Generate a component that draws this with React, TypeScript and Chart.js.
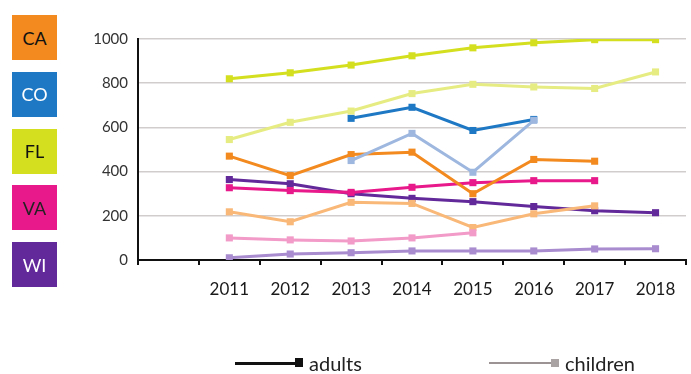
import React, { useEffect, useRef } from "react";
import { Chart, registerables } from "chart.js";
Chart.register(...registerables);

const categories = ["", "2011", "2012", "2013", "2014", "2015", "2016", "2017", "2018"];
const yTicks = [0, 200, 400, 600, 800, 1000];

const caAdults = [null, 470, 382, 477, 488, 300, 455, 447, null];
const caChildren = [null, 218, 173, 261, 256, 147, 209, 245, null];
const coAdults = [null, null, null, 641, 691, 586, 636, null, null];
const coChildren = [null, null, null, 450, 573, 397, 632, null, null];
const flAdults = [null, 820, 847, 882, 924, 960, 983, 997, 997];
const flChildren = [null, 545, 623, 674, 753, 795, 783, 776, 851];
const vaAdults = [null, 327, 314, 306, 329, 350, 359, 359, null];
const vaChildren = [null, 100, 91, 86, 100, 123, null, null, null];
const wiAdults = [null, 364, 345, 300, 279, 264, 242, 223, 214];
const wiChildren = [null, 10, 27, 33, 41, 41, 41, 50, 51];

const states = [
  { name: "CA", color: "#f28a1f", light: "#f9b877", text: "#111" },
  { name: "CO", color: "#1e78c4", light: "#9db7df", text: "#fff" },
  { name: "FL", color: "#d3df1f", light: "#e6ec82", text: "#111" },
  { name: "VA", color: "#e8198a", light: "#f29ac8", text: "#222" },
  { name: "WI", color: "#62299a", light: "#a88ccf", text: "#fff" },
];

const FONT = "Lato, 'Noto Sans', sans-serif";

export default function App() {
  const ref = useRef<HTMLCanvasElement | null>(null);
  useEffect(() => {
    document.body.style.margin = "0";
    const mk = (data: (number | null)[], color: string) => ({
      data,
      borderColor: color,
      backgroundColor: color,
      borderWidth: 3,
      pointStyle: "rect" as const,
      pointRadius: 5,
      pointBorderWidth: 0,
      spanGaps: false,
    });
    const datasets = [
      mk(wiChildren, states[4].light),
      mk(vaChildren, states[3].light),
      mk(caChildren, states[0].light),
      mk(coChildren, states[1].light),
      mk(flChildren, states[2].light),
      mk(flAdults, states[2].color),
      mk(coAdults, states[1].color),
      mk(caAdults, states[0].color),
      mk(vaAdults, states[3].color),
      mk(wiAdults, states[4].color),
    ];
    const chart = new Chart(ref.current!, {
      type: "line",
      data: { labels: categories, datasets },
      options: {
        animation: false,
        responsive: false,
        layout: { padding: { top: 39, right: 0, left: 0, bottom: 0 } },
        plugins: { legend: { display: false }, tooltip: { enabled: false } },
        scales: {
          x: {
            offset: true,
            grid: {
              offset: true,
              drawOnChartArea: false,
              drawTicks: true,
              tickLength: 5,
              color: "#111",
              lineWidth: 2,
            },
            border: { color: "#111", width: 2 },
            ticks: {
              color: "#1a1a1a",
              font: { family: FONT, size: 17 },
              padding: 14,
              maxRotation: 0,
              autoSkip: false,
            },
            afterFit: (s: any) => {
              s.height = 114;
            },
          },
          y: {
            min: 0,
            max: 1000,
            afterBuildTicks: (s: any) => {
              s.ticks = yTicks.map((v) => ({ value: v }));
            },
            grid: { color: "#d2cdcd", lineWidth: 1.5, drawTicks: false },
            border: { color: "#111", width: 2 },
            ticks: {
              color: "#333",
              font: { family: FONT, size: 15 },
              padding: 10,
              callback: (v: any) => String(v),
            },
            afterFit: (s: any) => {
              s.width = 138;
            },
          },
        },
      },
    });
    return () => chart.destroy();
  }, []);

  return (
    <div style={{ position: "relative", width: 691, height: 374, background: "#fff", fontFamily: FONT }}>
      <canvas ref={ref} width={691} height={374} style={{ position: "absolute", left: 0, top: 0 }} />
      {states.map((s, i) => (
        <div
          key={s.name}
          style={{
            position: "absolute",
            left: 12,
            top: 15 + i * 56.8,
            width: 45,
            height: 45,
            background: s.color,
            color: s.text,
            fontSize: 18,
            display: "flex",
            alignItems: "center",
            justifyContent: "center",
          }}
        >
          {s.name}
        </div>
      ))}
      <div style={{ position: "absolute", left: 235, top: 362, width: 62, height: 3, background: "#111" }} />
      <div style={{ position: "absolute", left: 295, top: 358, width: 8, height: 9, background: "#111" }} />
      <div style={{ position: "absolute", left: 309, top: 352, fontSize: 20, lineHeight: "22px", color: "#222" }}>adults</div>
      <div style={{ position: "absolute", left: 489, top: 362, width: 64, height: 2, background: "#9c9494" }} />
      <div style={{ position: "absolute", left: 551, top: 359, width: 8, height: 8, background: "#aaa3a3" }} />
      <div style={{ position: "absolute", left: 565, top: 352, fontSize: 20, lineHeight: "22px", color: "#222" }}>children</div>
    </div>
  );
}
